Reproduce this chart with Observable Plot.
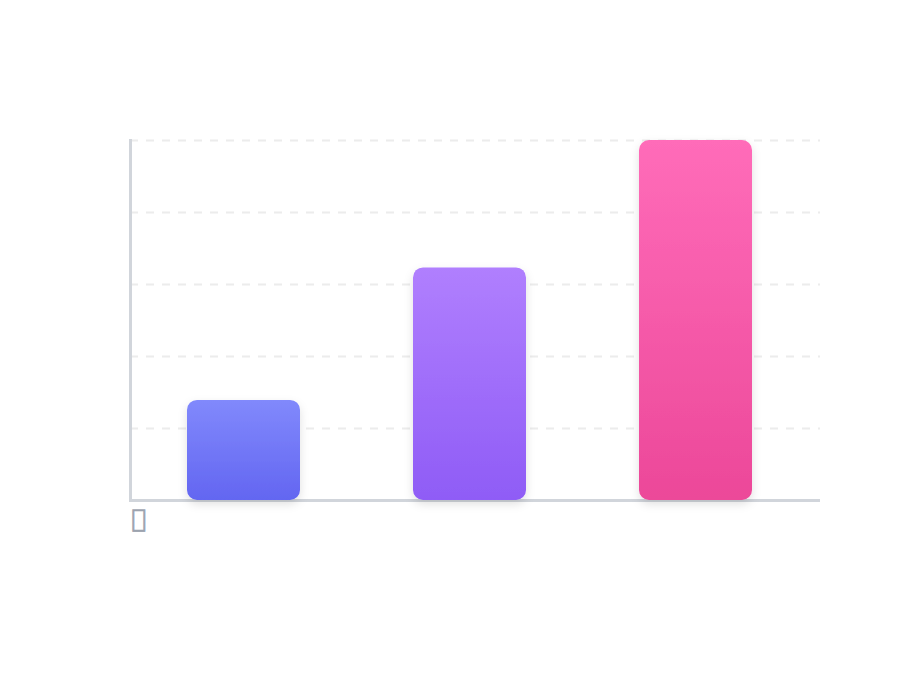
<!DOCTYPE html>
<html>
<head>
<meta charset="utf-8">
<script src="https://cdn.jsdelivr.net/npm/d3@7"></script>
<script src="https://cdn.jsdelivr.net/npm/@observablehq/plot@0.6"></script>
<style>
  html, body { margin: 0; padding: 0; background: #ffffff; }
  #chart { width: 900px; height: 680px; }
  svg { font-family: "DejaVu Sans", sans-serif; }
</style>
</head>
<body>
<div id="chart"></div>
<script>
const categories = ["A", "B", "C"];
const values = [27.8, 64.6, 100];
const gradientIds = ["g0", "g1", "g2"];
const gradientTops = ["#8189fc", "#b07ffe", "#ff6cb9"];
const gradientBottoms = ["#6366f1", "#8f5cf6", "#ec4899"];
const yTicks = [0, 20, 40, 60, 80, 100];
const axisLabel = "\uF080";

const data = categories.map((c, i) => ({cat: c, value: values[i], fill: `url(#${gradientIds[i]})`}));

const plot = Plot.plot({
  width: 900,
  height: 680,
  marginLeft: 130,
  marginRight: 80,
  marginTop: 140,
  marginBottom: 180,
  x: {domain: categories, range: [130, 808], paddingInner: 0.5, paddingOuter: 0.25, axis: null},
  y: {domain: [0, 100], axis: null},
  color: {type: "identity"},
  marks: [
    Plot.ruleY(yTicks, {stroke: "#ececec", strokeWidth: 2, strokeDasharray: "8,8"}),
    Plot.frame({anchor: "left", stroke: "#d1d5db", strokeWidth: 3}),
    Plot.ruleY([0], {stroke: "#d1d5db", strokeWidth: 3}),
    Plot.barY(data, {x: "cat", y: "value", fill: "fill", rx: 10, ry: 10}),
    Plot.text([axisLabel], {frameAnchor: "bottom-left", dx: 1, dy: 9, textAnchor: "start", lineAnchor: "top", fontSize: 25, fill: "#9ca3af", stroke: "#9ca3af", strokeWidth: 0.6})
  ]
});

const ns = "http://www.w3.org/2000/svg";
const defs = document.createElementNS(ns, "defs");
gradientIds.forEach((id, i) => {
  const g = document.createElementNS(ns, "linearGradient");
  g.setAttribute("id", id);
  g.setAttribute("x1", "0"); g.setAttribute("y1", "0");
  g.setAttribute("x2", "0"); g.setAttribute("y2", "1");
  const s1 = document.createElementNS(ns, "stop");
  s1.setAttribute("offset", "0%"); s1.setAttribute("stop-color", gradientTops[i]);
  const s2 = document.createElementNS(ns, "stop");
  s2.setAttribute("offset", "100%"); s2.setAttribute("stop-color", gradientBottoms[i]);
  g.appendChild(s1); g.appendChild(s2);
  defs.appendChild(g);
});
const f = document.createElementNS(ns, "filter");
f.setAttribute("id", "barShadow");
f.setAttribute("x", "-30%"); f.setAttribute("y", "-30%");
f.setAttribute("width", "160%"); f.setAttribute("height", "160%");
const ds = document.createElementNS(ns, "feDropShadow");
ds.setAttribute("dx", "0"); ds.setAttribute("dy", "4");
ds.setAttribute("stdDeviation", "5");
ds.setAttribute("flood-color", "#000000");
ds.setAttribute("flood-opacity", "0.12");
f.appendChild(ds);
defs.appendChild(f);
plot.insertBefore(defs, plot.firstChild);
plot.querySelectorAll("rect").forEach(r => {
  if ((r.getAttribute("fill") || "").startsWith("url(")) r.setAttribute("filter", "url(#barShadow)");
});
document.getElementById("chart").appendChild(plot);
</script>
</body>
</html>
